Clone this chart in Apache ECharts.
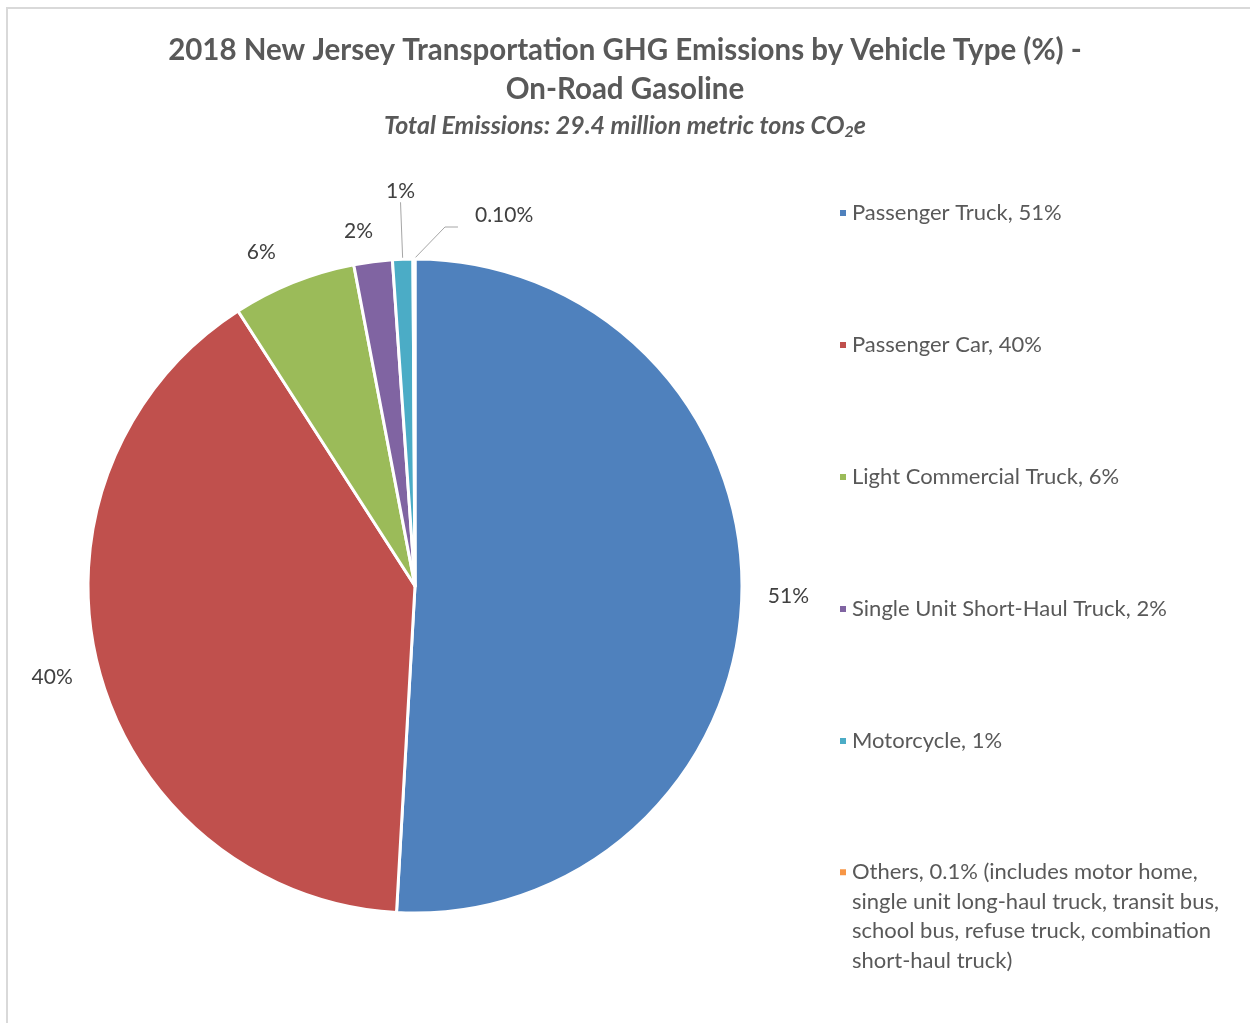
<!DOCTYPE html>
<html>
<head>
<meta charset="utf-8">
<title>2018 NJ Transportation GHG Emissions - On-Road Gasoline</title>
<script src="https://cdn.jsdelivr.net/npm/echarts/dist/echarts.min.js"></script>
<style>
  html, body { margin: 0; padding: 0; background: #fff; }
  #main { width: 1250px; height: 1023px; }
</style>
</head>
<body>
<div id="main"></div>
<script>
// vehicle types, clockwise from 12 o'clock
const categories = ['Passenger Truck', 'Passenger Car', 'Light Commercial Truck',
  'Single Unit Short-Haul Truck', 'Motorcycle', 'Others'];
// share of emissions (%)
const shares = [50.9, 40.0, 6.1, 1.9, 1.0, 0.1];
// labels printed next to the slices
const sliceLabels = ['51%', '40%', '6%', '2%', '1%', '0.10%'];
// legend texts
const legendLabels = [
  'Passenger Truck, 51%',
  'Passenger Car, 40%',
  'Light Commercial Truck, 6%',
  'Single Unit Short-Haul Truck, 2%',
  'Motorcycle, 1%',
  'Others, 0.1% (includes motor home,\nsingle unit long-haul truck, transit bus,\nschool bus, refuse truck, combination\nshort-haul truck)'
];

const colors = ['#4F81BD', '#C0504D', '#9BBB59', '#8064A2', '#4BACC6', '#F79646'];
const FONT = 'Lato';

// label placement (leader length, gap to text)
const lineLen = [22, 30, 32, 31, 57, 0];
const labelGap = [4, -3, 6, -4, 0, 0];

let myChart = echarts.init(document.getElementById('main'));

// legend text is centred on its icon, so pad the long entry with empty
// lines on top to keep the icon next to its first line
function legendText(name) {
  const txt = legendLabels[categories.indexOf(name)];
  const extra = txt.split('\n').length - 1;
  return '\n'.repeat(extra) + txt;
}

myChart.setOption({
  animation: false,
  backgroundColor: '#fff',
  color: colors,
  title: [{
    text: '2018 New Jersey Transportation GHG Emissions by Vehicle Type (%) -\nOn-Road Gasoline',
    left: 'center',
    top: 26,
    textStyle: {
      fontFamily: FONT,
      fontWeight: 'bold',
      fontSize: 29.5,
      lineHeight: 39,
      color: '#595959'
    }
  }, {
    // subtitle with subscript 2
    text: '{a|Total Emissions: 29.4 million metric tons CO}{s|2}{a|e}',
    left: 'center',
    top: 107,
    textStyle: {
      rich: {
        a: { fontFamily: FONT, fontStyle: 'italic', fontWeight: 'bold', fontSize: 25, lineHeight: 28, color: '#595959' },
        s: { fontFamily: FONT, fontStyle: 'italic', fontWeight: 'bold', fontSize: 16, lineHeight: 14, verticalAlign: 'bottom', color: '#595959' }
      }
    }
  }],
  legend: [{
    // first five entries
    orient: 'vertical',
    left: 838,
    top: 198,
    padding: 0,
    itemGap: 102,
    itemWidth: 8,
    itemHeight: 8,
    icon: 'rect',
    selectedMode: false,
    data: categories.slice(0, 5),
    formatter: legendText,
    textStyle: { fontFamily: FONT, fontSize: 22, lineHeight: 30, color: '#595959' }
  }, {
    // "Others" with the long note
    orient: 'vertical',
    left: 838,
    top: 769,
    padding: 0,
    itemWidth: 8,
    itemHeight: 8,
    icon: 'rect',
    selectedMode: false,
    data: categories.slice(5),
    formatter: legendText,
    textStyle: { fontFamily: FONT, fontSize: 22, lineHeight: 29.5, color: '#595959' }
  }],
  graphic: [{
    type: 'rect',
    silent: true,
    shape: { x: 7, y: 8, width: 1400, height: 1200 },
    style: { fill: 'none', stroke: '#d9d9d9', lineWidth: 2 }
  }],
  series: [{
    type: 'pie',
    center: [415, 586],
    radius: 327,
    startAngle: 90,
    clockwise: true,
    avoidLabelOverlap: false,
    itemStyle: { borderColor: '#fff', borderWidth: 3 },
    label: {
      position: 'outside',
      fontFamily: FONT,
      fontSize: 21,
      color: '#404040',
      formatter: p => sliceLabels[p.dataIndex]
    },
    labelLine: {
      lineStyle: { color: '#a6a6a6', width: 1 }
    },
    emphasis: { disabled: true },
    data: shares.map((v, i) => ({
      name: categories[i],
      value: v,
      label: { distanceToLabelLine: labelGap[i] },
      labelLine: { show: i >= 4, length: lineLen[i], length2: 0 }
    })),
    // the two thin slices at the top get their own leader lines
    labelLayout: function (params) {
      const pts = params.labelLinePoints;
      if (!pts) return {};
      if (params.dataIndex === 4) {
        return {
          x: pts[1][0], y: pts[1][1] - 11,
          align: 'center', verticalAlign: 'middle',
          labelLinePoints: [pts[0], pts[1]]
        };
      }
      if (params.dataIndex === 5) {
        const p0 = pts[0];
        const p1 = [p0[0] + 31, p0[1] - 32];
        const p2 = [p1[0] + 13, p1[1]];
        return {
          x: p2[0] + 17, y: p2[1] - 12,
          align: 'left', verticalAlign: 'middle',
          labelLinePoints: [p0, p1, p2]
        };
      }
      return {};
    }
  }]
});
</script>
</body>
</html>
